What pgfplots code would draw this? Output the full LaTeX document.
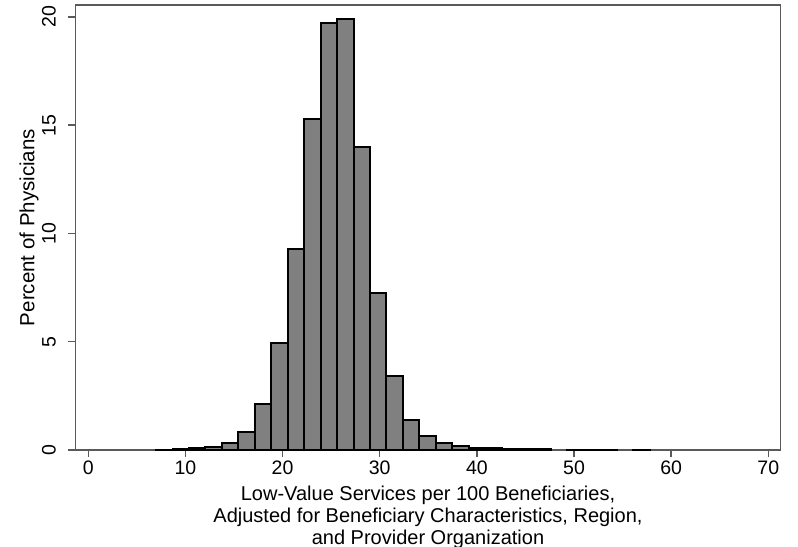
\documentclass[border=0pt]{standalone}
\usepackage{fontspec}
\setmainfont{Liberation Sans}
\usepackage{pgfplots}
\pgfplotsset{compat=1.18}
\definecolor{barfill}{RGB}{128,128,128}
\definecolor{framec}{RGB}{90,90,90}
\begin{document}
\begin{tikzpicture}
\begin{axis}[
  scale only axis,
  width=705.4bp, height=445bp,
  xmin=-1.34, xmax=71.28, ymin=0, ymax=20.55,
  axis line style={draw=framec, line width=1.4bp},
  xtick={0,10,...,70}, ytick={0,5,...,20},
  minor tick num=0,
  tick align=outside, major tick length=7bp,
  every tick/.style={draw=framec, line width=1.4bp},
  xtick pos=bottom, ytick pos=left,
  /pgf/number format/assume math mode=true,
  tick label style={font=\fontsize{19.5bp}{22bp}\selectfont, text=black},
  yticklabel style={xshift=-9bp, rotate=90, anchor=south},
  every axis y label/.style={at={(axis description cs:-0.0656,0.5)}, rotate=90, anchor=center, font=\fontsize{20.5bp}{22bp}\selectfont},
  every axis x label/.style={at={(axis description cs:0.5,0)}, anchor=north, yshift=-32bp, align=center, font=\fontsize{20bp}{22bp}\selectfont},
  ylabel={Percent of Physicians},
  xlabel={Low-Value Services per 100 Beneficiaries,\\Adjusted for Beneficiary Characteristics, Region,\\and Provider Organization},
  clip=false,
]
\addplot[ybar, bar width=1.694, fill=barfill, draw=black, line width=2bp] coordinates {
(7.827,0.02) (9.521,0.04) (11.215,0.08) (12.909,0.15) (14.603,0.34)
(16.297,0.81) (17.991,2.14) (19.685,4.92) (21.379,9.26) (23.073,15.27)
(24.767,19.72) (26.461,19.90) (28.155,14.01) (29.849,7.27) (31.543,3.43)
(33.237,1.37) (34.931,0.64) (36.625,0.32) (38.319,0.18) (40.013,0.10)
(41.707,0.07) (43.401,0.05) (45.095,0.04) (46.789,0.03)
(50.177,0.02) (51.871,0.02) (53.565,0.02) (56.953,0.02)
};
\coordinate (sw) at (rel axis cs:0,0);
\coordinate (ne) at (rel axis cs:1,1);
\end{axis}
\pgfresetboundingbox
\path ([shift={(-75.3bp,-97bp)}]sw) rectangle ([shift={(17.3bp,5bp)}]ne);
\end{tikzpicture}
\end{document}
